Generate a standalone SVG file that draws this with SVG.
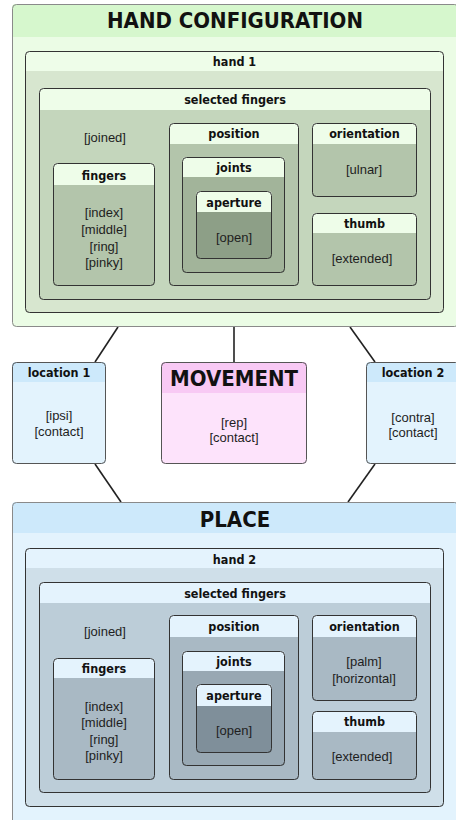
<svg xmlns="http://www.w3.org/2000/svg" width="456" height="820" viewBox="0 0 456 820">
  <style>
    .t { font-family: "DejaVu Sans Condensed", "DejaVu Sans", sans-serif; font-weight: bold; font-size: 12.5px; fill: #111; text-anchor: middle; }
    .big { font-size: 22px; }
    .v { font-family: "Liberation Sans", Arial, sans-serif; font-size: 13px; fill: #1e1e1e; text-anchor: middle; }
    .edge { fill: none; stroke-width: 1; }
    .outer { stroke: #8a8a8a; }
    .mid { stroke: #555; }
    .inner { stroke: #333; }
    .conn line { stroke: #222; stroke-width: 1.6; }
    /* green palette */
    .g0h { fill: #d6f7cd; } .g0b { fill: #ebfce5; }
    .gh { fill: #eefde9; }
    .g1 { fill: #d7e6cf; } .g2 { fill: #c4d6bc; } .g3 { fill: #b3c5ab; } .g4 { fill: #a2b49a; } .g5 { fill: #8d9f87; }
    /* blue palette */
    .b0h { fill: #cde9fb; } .b0b { fill: #e3f3fd; }
    .bh { fill: #e4f3fd; }
    .b1 { fill: #cfdfe9; } .b2 { fill: #bccdd8; } .b3 { fill: #a9b9c4; } .b4 { fill: #98a8b3; } .b5 { fill: #7f8f9a; }
    /* pink palette */
    .p0h { fill: #f8c9f4; } .p0b { fill: #fde3fb; }
  </style>

  <!-- connectors between the top, middle and bottom boxes -->
  <g id="connectors" class="conn">
    <line x1="118" y1="327" x2="95" y2="362"/>
    <line x1="234" y1="327" x2="234" y2="362"/>
    <line x1="350" y1="327" x2="375" y2="362"/>
    <line x1="95" y1="464" x2="121" y2="502"/>
    <line x1="375" y1="464" x2="348" y2="502"/>
  </g>

  <!-- HAND CONFIGURATION -->
  <g id="hand-configuration">
    <rect class="g0b" x="12" y="4" width="446" height="323" rx="4"/>
    <path class="g0h" d="M12,37 V8 A4,4 0 0 1 16,4 H454 A4,4 0 0 1 458,8 V37 Z"/>
    <rect class="edge outer" x="12.5" y="4.5" width="446" height="322" rx="4"/>
    <text class="t big" x="235" y="28">HAND CONFIGURATION</text>
  </g>
  <g id="hand-1">
    <rect class="g1" x="25" y="51" width="419" height="262" rx="4"/>
    <path class="gh" d="M25,71 V55 A4,4 0 0 1 29,51 H440 A4,4 0 0 1 444,55 V71 Z"/>
    <rect class="edge inner" x="25.5" y="51.5" width="418" height="261" rx="4"/>
    <text class="t" x="234.5" y="65.5">hand 1</text>
  </g>
  <g id="selected-fingers-1">
    <rect class="g2" x="39" y="88" width="392" height="212" rx="4"/>
    <path class="gh" d="M39,110 V92 A4,4 0 0 1 43,88 H427 A4,4 0 0 1 431,92 V110 Z"/>
    <rect class="edge inner" x="39.5" y="88.5" width="391" height="211" rx="4"/>
    <text class="t" x="235" y="103.5">selected fingers</text>
    <text class="v" x="105" y="141.5">[joined]</text>
  </g>
  <g id="fingers-1">
    <rect class="g3" x="53" y="163" width="102" height="123" rx="4"/>
    <path class="gh" d="M53,185 V167 A4,4 0 0 1 57,163 H151 A4,4 0 0 1 155,167 V185 Z"/>
    <rect class="edge inner" x="53.5" y="163.5" width="101" height="122" rx="4"/>
    <text class="t" x="104" y="179.5">fingers</text>
    <text class="v" x="104" y="216.5">[index]</text>
    <text class="v" x="104" y="233.5">[middle]</text>
    <text class="v" x="104" y="250.5">[ring]</text>
    <text class="v" x="104" y="267">[pinky]</text>
  </g>
  <g id="position-1">
    <rect class="g3" x="169" y="123" width="130" height="163" rx="4"/>
    <path class="gh" d="M169,144 V127 A4,4 0 0 1 173,123 H295 A4,4 0 0 1 299,127 V144 Z"/>
    <rect class="edge inner" x="169.5" y="123.5" width="129" height="162" rx="4"/>
    <text class="t" x="234" y="137.5">position</text>
  </g>
  <g id="joints-1">
    <rect class="g4" x="182" y="157" width="103" height="116" rx="4"/>
    <path class="gh" d="M182,177 V161 A4,4 0 0 1 186,157 H281 A4,4 0 0 1 285,161 V177 Z"/>
    <rect class="edge inner" x="182.5" y="157.5" width="102" height="115" rx="4"/>
    <text class="t" x="234" y="172">joints</text>
  </g>
  <g id="aperture-1">
    <rect class="g5" x="196" y="191" width="76" height="68" rx="4"/>
    <path class="gh" d="M196,212 V195 A4,4 0 0 1 200,191 H268 A4,4 0 0 1 272,195 V212 Z"/>
    <rect class="edge inner" x="196.5" y="191.5" width="75" height="67" rx="4"/>
    <text class="t" x="234" y="207">aperture</text>
    <text class="v" x="234" y="241.5">[open]</text>
  </g>
  <g id="orientation-1">
    <rect class="g3" x="312" y="123" width="105" height="74" rx="4"/>
    <path class="gh" d="M312,144 V127 A4,4 0 0 1 316,123 H413 A4,4 0 0 1 417,127 V144 Z"/>
    <rect class="edge inner" x="312.5" y="123.5" width="104" height="73" rx="4"/>
    <text class="t" x="364.5" y="138">orientation</text>
    <text class="v" x="364" y="173.5">[ulnar]</text>
  </g>
  <g id="thumb-1">
    <rect class="g3" x="312" y="213" width="105" height="73" rx="4"/>
    <path class="gh" d="M312,233 V217 A4,4 0 0 1 316,213 H413 A4,4 0 0 1 417,217 V233 Z"/>
    <rect class="edge inner" x="312.5" y="213.5" width="104" height="72" rx="4"/>
    <text class="t" x="364.5" y="227.5">thumb</text>
    <text class="v" x="362" y="262.5">[extended]</text>
  </g>

  <!-- middle row -->
  <g id="location-1">
    <rect class="b0b" x="12" y="362" width="94" height="102" rx="4"/>
    <path class="b0h" d="M12,382 V366 A4,4 0 0 1 16,362 H102 A4,4 0 0 1 106,366 V382 Z"/>
    <rect class="edge mid" x="12.5" y="362.5" width="93" height="101" rx="4"/>
    <text class="t" x="59" y="376.5">location 1</text>
    <text class="v" x="59" y="419.5">[ipsi]</text>
    <text class="v" x="59" y="435.5">[contact]</text>
  </g>
  <g id="movement">
    <rect class="p0b" x="161" y="362" width="146" height="102" rx="4"/>
    <path class="p0h" d="M161,393 V366 A4,4 0 0 1 165,362 H303 A4,4 0 0 1 307,366 V393 Z"/>
    <rect class="edge mid" x="161.5" y="362.5" width="145" height="101" rx="4"/>
    <text class="t big" x="234" y="386">MOVEMENT</text>
    <text class="v" x="234" y="426.5">[rep]</text>
    <text class="v" x="234" y="441.5">[contact]</text>
  </g>
  <g id="location-2">
    <rect class="b0b" x="366" y="362" width="94" height="102" rx="4"/>
    <path class="b0h" d="M366,382 V366 A4,4 0 0 1 370,362 H456 A4,4 0 0 1 460,366 V382 Z"/>
    <rect class="edge mid" x="366.5" y="362.5" width="93" height="101" rx="4"/>
    <text class="t" x="413" y="376.5">location 2</text>
    <text class="v" x="413" y="421.5">[contra]</text>
    <text class="v" x="413" y="436.5">[contact]</text>
  </g>

  <!-- PLACE -->
  <g id="place">
    <rect class="b0b" x="12" y="502" width="446" height="330" rx="4"/>
    <path class="b0h" d="M12,533 V506 A4,4 0 0 1 16,502 H454 A4,4 0 0 1 458,506 V533 Z"/>
    <rect class="edge outer" x="12.5" y="502.5" width="446" height="329" rx="4"/>
    <text class="t big" x="235" y="527">PLACE</text>
  </g>
  <g id="hand-2">
    <rect class="b1" x="25" y="548" width="419" height="259" rx="4"/>
    <path class="bh" d="M25,568 V552 A4,4 0 0 1 29,548 H440 A4,4 0 0 1 444,552 V568 Z"/>
    <rect class="edge inner" x="25.5" y="548.5" width="418" height="258" rx="4"/>
    <text class="t" x="234.5" y="563.5">hand 2</text>
  </g>
  <g id="selected-fingers-2">
    <rect class="b2" x="39" y="582" width="392" height="211" rx="4"/>
    <path class="bh" d="M39,603 V586 A4,4 0 0 1 43,582 H427 A4,4 0 0 1 431,586 V603 Z"/>
    <rect class="edge inner" x="39.5" y="582.5" width="391" height="210" rx="4"/>
    <text class="t" x="235" y="597.5">selected fingers</text>
    <text class="v" x="105" y="635.5">[joined]</text>
  </g>
  <g id="fingers-2">
    <rect class="b3" x="53" y="658" width="102" height="122" rx="4"/>
    <path class="bh" d="M53,678 V662 A4,4 0 0 1 57,658 H151 A4,4 0 0 1 155,662 V678 Z"/>
    <rect class="edge inner" x="53.5" y="658.5" width="101" height="121" rx="4"/>
    <text class="t" x="104" y="672.5">fingers</text>
    <text class="v" x="104" y="710.5">[index]</text>
    <text class="v" x="104" y="727">[middle]</text>
    <text class="v" x="104" y="743.5">[ring]</text>
    <text class="v" x="104" y="760">[pinky]</text>
  </g>
  <g id="position-2">
    <rect class="b3" x="169" y="615" width="130" height="165" rx="4"/>
    <path class="bh" d="M169,637 V619 A4,4 0 0 1 173,615 H295 A4,4 0 0 1 299,619 V637 Z"/>
    <rect class="edge inner" x="169.5" y="615.5" width="129" height="164" rx="4"/>
    <text class="t" x="234" y="631">position</text>
  </g>
  <g id="joints-2">
    <rect class="b4" x="182" y="651" width="103" height="115" rx="4"/>
    <path class="bh" d="M182,671 V655 A4,4 0 0 1 186,651 H281 A4,4 0 0 1 285,655 V671 Z"/>
    <rect class="edge inner" x="182.5" y="651.5" width="102" height="114" rx="4"/>
    <text class="t" x="234" y="665.5">joints</text>
  </g>
  <g id="aperture-2">
    <rect class="b5" x="196" y="684" width="76" height="69" rx="4"/>
    <path class="bh" d="M196,706 V688 A4,4 0 0 1 200,684 H268 A4,4 0 0 1 272,688 V706 Z"/>
    <rect class="edge inner" x="196.5" y="684.5" width="75" height="68" rx="4"/>
    <text class="t" x="234" y="700">aperture</text>
    <text class="v" x="234" y="734.5">[open]</text>
  </g>
  <g id="orientation-2">
    <rect class="b3" x="312" y="615" width="105" height="86" rx="4"/>
    <path class="bh" d="M312,637 V619 A4,4 0 0 1 316,615 H413 A4,4 0 0 1 417,619 V637 Z"/>
    <rect class="edge inner" x="312.5" y="615.5" width="104" height="85" rx="4"/>
    <text class="t" x="364.5" y="631">orientation</text>
    <text class="v" x="364" y="665.5">[palm]</text>
    <text class="v" x="364" y="682.5">[horizontal]</text>
  </g>
  <g id="thumb-2">
    <rect class="b3" x="312" y="711" width="105" height="69" rx="4"/>
    <path class="bh" d="M312,732 V715 A4,4 0 0 1 316,711 H413 A4,4 0 0 1 417,715 V732 Z"/>
    <rect class="edge inner" x="312.5" y="711.5" width="104" height="68" rx="4"/>
    <text class="t" x="364.5" y="726">thumb</text>
    <text class="v" x="362" y="760.5">[extended]</text>
  </g>
</svg>
